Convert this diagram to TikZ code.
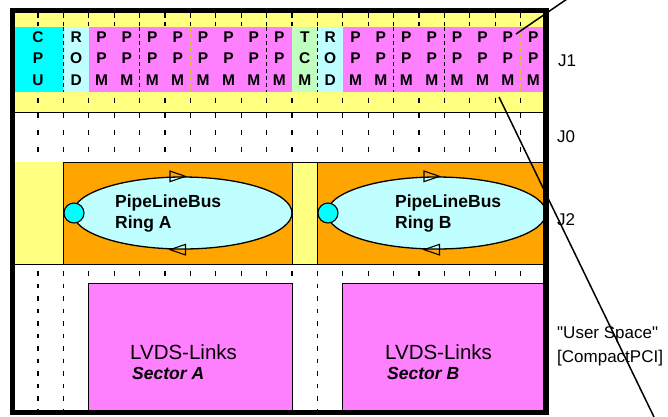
\documentclass[tikz,border=0pt]{standalone}
\usepackage{fontspec}
\setmainfont{Liberation Sans}
\font\sidefont="Liberation Sans" at 17pt
\usetikzlibrary{shapes.geometric}
\definecolor{jyellow}{HTML}{FFFF80}
\definecolor{jcyan}{HTML}{00FFFF}
\definecolor{lcyan}{HTML}{C0FFFF}
\definecolor{jmag}{HTML}{FF80FF}
\definecolor{jgreen}{HTML}{C0FFC0}
\definecolor{jorange}{HTML}{FFA500}
\begin{document}
\begin{tikzpicture}[x=1pt,y=-1pt,
  tickln/.style={line width=1.3pt,black},
  slotlbl/.style={font=\fontsize{15.5}{21.7}\selectfont\bfseries,align=center,inner sep=0pt},
  ringlbl/.style={font=\fontsize{17.5}{21}\selectfont\bfseries,anchor=base west,inner sep=0pt},
  lvdslbl/.style={font=\fontsize{20.5}{24}\selectfont,anchor=base west,inner sep=0pt},
  seclbl/.style={font=\fontsize{17.5}{21}\selectfont\bfseries\itshape,anchor=base west,inner sep=0pt},
  sidelbl/.style={font=\sidefont,anchor=base west,inner sep=0pt},
  ringell/.style={ellipse,draw,fill=lcyan,line width=1.3pt,minimum width=219pt,minimum height=72pt,inner sep=0pt},
  port/.style={circle,draw,fill=jcyan,line width=1.1pt,minimum size=20pt,inner sep=0pt},
  boxln/.style={draw=black,line width=1pt},
  tri/.style={line width=1.1pt}
]
\useasboundingbox (0,0) rectangle (668,416);
\fill[white] (0,0) rectangle (668,416);
% J1 yellow band
\fill[jyellow] (12,12) rectangle (546,112);
% ticks in J1 and J0
\foreach \k in {0,...,19}{
  \pgfmathsetmacro{\xx}{38+25.4*\k}
  \draw[tickln] (\xx,13) -- (\xx,17.5);
  \draw[tickln] (\xx,22) -- (\xx,26);
  \draw[tickln] (\xx,98) -- (\xx,103);
  \draw[tickln,dash pattern=on 5pt off 12pt] (\xx,113) -- (\xx,162);
}
% coloured module band
\fill[jcyan]  (12,27) rectangle (63.4,92);
\fill[lcyan]  (63.4,27) rectangle (88.8,92);
\fill[jmag]   (88.8,27) rectangle (292,92);
\fill[jgreen] (292,27) rectangle (317.4,92);
\fill[lcyan]  (317.4,27) rectangle (342.8,92);
\fill[jmag]   (342.8,27) rectangle (546,92);
\foreach \xx in {63.4,139.6,266.6,317.4,393.6,444.4}{
  \draw[line width=1pt,dash pattern=on 4pt off 3pt] (\xx,27) -- (\xx,92);
}
\foreach \xx in {190.4,520.6}{
  \draw[line width=1pt,dash pattern=on 4pt off 3pt,draw=yellow!80!black] (\xx,27) -- (\xx,92);
}
% module labels
\node[slotlbl] (cpu) at (38,58.4) {C\\P\\U};
\node[slotlbl] (rod1) at (76.1,58.4) {R\\O\\D};
\foreach \k in {2,...,9}{
  \node[slotlbl] (ppm\k) at (38+25.4*\k+12.7,58.4) {P\\P\\M};
}
\node[slotlbl] (tcm) at (304.8,58.4) {T\\C\\M};
\node[slotlbl] (rod2) at (330.2,58.4) {R\\O\\D};
\foreach \k in {12,...,19}{
  \node[slotlbl] (ppm\k) at (38+25.4*\k+12.7,58.4) {P\\P\\M};
}
% horizontal separators
\draw[line width=1pt] (12,112) -- (546,112);
\draw[line width=1pt] (12,162) -- (546,162);
% J2 row
\fill[jyellow] (12,162) rectangle (63.4,264);
\filldraw[fill=jorange,boxln] (63.4,162) rectangle (292,264);
\filldraw[fill=jyellow,boxln] (292,162) rectangle (317.4,264);
\filldraw[fill=jorange,boxln] (317.4,162) rectangle (546,264);
% rings
\node[ringell] (ringA) at (182.5,213) {};
\node[ringell] (ringB) at (436.5,213) {};
\node[port] (portA) at (74,213) {};
\node[port] (portB) at (328,213) {};
\draw[tri] ([xshift=-12.5pt,yshift=5.3pt]ringA.north) -- ([xshift=3pt]ringA.north) -- ([xshift=-12.5pt,yshift=-5.3pt]ringA.north) -- cycle;
\draw[tri] ([xshift=3pt,yshift=5.3pt]ringA.south) -- ([xshift=-12.5pt]ringA.south) -- ([xshift=3pt,yshift=-5.3pt]ringA.south) -- cycle;
\draw[tri] ([xshift=-12.5pt,yshift=5.3pt]ringB.north) -- ([xshift=3pt]ringB.north) -- ([xshift=-12.5pt,yshift=-5.3pt]ringB.north) -- cycle;
\draw[tri] ([xshift=3pt,yshift=5.3pt]ringB.south) -- ([xshift=-12.5pt]ringB.south) -- ([xshift=3pt,yshift=-5.3pt]ringB.south) -- cycle;
\node[ringlbl] (ringAt1) at (115,207) {PipeLineBus};
\node[ringlbl] (ringAt2) at (115,228) {Ring A};
\node[ringlbl] (ringBt1) at (395,207) {PipeLineBus};
\node[ringlbl] (ringBt2) at (395,228) {Ring B};
% user space
\draw[line width=1pt] (12,264) -- (546,264);
\foreach \k in {0,...,19}{
  \pgfmathsetmacro{\xx}{38+25.4*\k}
  \draw[tickln] (\xx,271) -- (\xx,276);
}
\foreach \xx in {38,63.4,317.4}{
  \draw[tickln,dash pattern=on 4.5pt off 8pt] (\xx,271) -- (\xx,412);
}
\filldraw[fill=jmag,boxln] (88.8,283) rectangle (292,414);
\filldraw[fill=jmag,boxln] (342.8,283) rectangle (546,414);
\node[lvdslbl] (lvdsA) at (130,359) {LVDS-Links};
\node[seclbl] (secA) at (132,379) {Sector A};
\node[lvdslbl] (lvdsB) at (385,359) {LVDS-Links};
\node[seclbl] (secB) at (387,379) {Sector B};
% outer frame
\draw[line width=5.5pt] (12.5,10.5) rectangle (546,412.5);
% side labels
\node[sidelbl] (j1) at (558,66.5) {J1};
\node[sidelbl] (j0) at (557,142) {J0};
\node[sidelbl] (j2) at (557,225) {J2};
\node[sidelbl] (us1) at (557,338.5) {"User Space"};
\node[sidelbl] (us2) at (557,362) {[CompactPCI]};
% zoom lines
\coordinate (za) at (516,34);
\coordinate (zb) at (567,-1);
\coordinate (zc) at (499,97);
\coordinate (zd) at (654,417);
\draw[line width=1.5pt] (za) -- (zb);
\draw[line width=1.5pt] (zc) -- (zd);
\end{tikzpicture}
\end{document}
